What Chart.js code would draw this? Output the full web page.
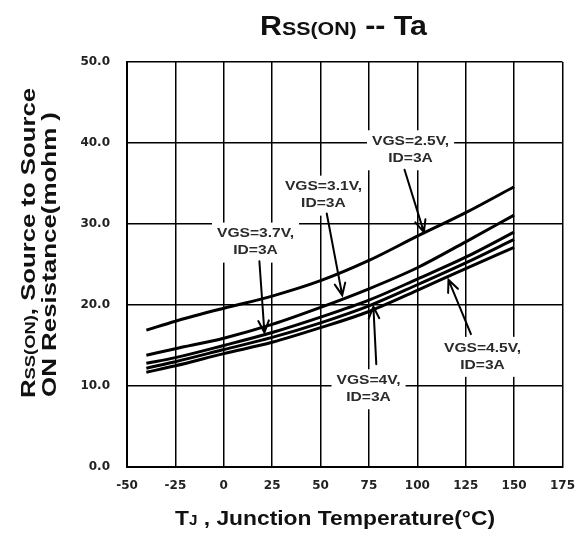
<!DOCTYPE html>
<html><head><meta charset="utf-8">
<script src="https://cdn.jsdelivr.net/npm/chart.js@4.4.0/dist/chart.umd.min.js"></script>
<style>html,body{margin:0;padding:0;background:#fff;overflow:hidden}#wrap{width:587px;height:541px;position:relative}</style>
</head><body><div id="wrap"><canvas id="c"></canvas></div>
<script>
// ---- data ----
const temps = [-40, -25, 0, 25, 50, 75, 100, 125, 150];
const vgs25 = [16.9, 18.0, 19.6, 21.1, 23.0, 25.5, 28.5, 31.4, 34.6];
const vgs31 = [13.8, 14.6, 15.9, 17.6, 19.7, 22.0, 24.6, 27.8, 31.1];
const vgs37 = [12.8, 13.5, 15.0, 16.6, 18.5, 20.6, 23.2, 25.9, 29.0];
const vgs40 = [12.2, 13.0, 14.5, 16.0, 17.8, 19.9, 22.5, 25.2, 28.1];
const vgs45 = [11.7, 12.5, 14.0, 15.4, 17.2, 19.2, 21.8, 24.5, 27.1];
const seriesNames = ['VGS=2.5V', 'VGS=3.1V', 'VGS=3.7V', 'VGS=4V', 'VGS=4.5V'];
const xTicks = [-50, -25, 0, 25, 50, 75, 100, 125, 150, 175];
const yTicks = [0, 10, 20, 30, 40, 50];

// annotation labels (data coordinates: temperature, mohm)
const notes = [
  {lines: ['VGS=2.5V,', 'ID=3A'], at: [96.5, 39.1], from: [93.4, 36.7], to: [103.4, 29.0]},
  {lines: ['VGS=3.1V,', 'ID=3A'], at: [51.5, 33.5], from: [53.2, 31.3], to: [61.2, 21.2]},
  {lines: ['VGS=3.7V,', 'ID=3A'], at: [16.4, 27.7], from: [18.4, 25.4], to: [21.0, 16.6]},
  {lines: ['VGS=4V,', 'ID=3A'], at: [74.8, 9.6], from: [78.8, 12.7], to: [77.3, 19.8]},
  {lines: ['VGS=4.5V,', 'ID=3A'], at: [133.7, 13.6], from: [127.7, 16.4], to: [116.1, 23.1]}
];

const allSeries = [vgs25, vgs31, vgs37, vgs40, vgs45];
const datasets = allSeries.map((s, i) => ({
  label: seriesNames[i],
  data: temps.map((t, j) => ({x: t, y: s[j]})),
  borderColor: '#000', borderWidth: 3, pointRadius: 0, fill: false,
  cubicInterpolationMode: 'monotone'
}));

const FONT = '"Liberation Sans", Arial, sans-serif';
function drawRich(ctx, segs, x, y, targetW, color) {
  let w = 0;
  segs.forEach(s => { ctx.font = 'bold ' + s.size + 'px ' + FONT; s.w = ctx.measureText(s.t).width; w += s.w; });
  const sx = targetW / w;
  ctx.save();
  ctx.translate(x, y);
  ctx.scale(sx, 1);
  ctx.fillStyle = color; ctx.textBaseline = 'alphabetic'; ctx.textAlign = 'left';
  let cx = 0;
  segs.forEach(s => { ctx.font = 'bold ' + s.size + 'px ' + FONT; ctx.fillText(s.t, cx, 0); cx += s.w; });
  ctx.restore();
}

const decor = {
  id: 'decor',
  afterDatasetsDraw(chart) {
    const ctx = chart.ctx, xs = chart.scales.x, ys = chart.scales.y;
    // labels
    notes.forEach(n => {
      const cx = xs.getPixelForValue(n.at[0]), cy = ys.getPixelForValue(n.at[1]);
      const lh = 17;
      const sx = 1.3;
      ctx.save();
      ctx.font = 'bold 12px ' + FONT;
      const widths = n.lines.map(l => ctx.measureText(l).width * sx);
      const bw = Math.max(...widths) + 10, bh = lh * n.lines.length + 6;
      ctx.fillStyle = '#fff';
      ctx.fillRect(cx - bw / 2, cy - bh / 2, bw, bh);
      n.lines.forEach((l, i) => {
        const ly = cy - (n.lines.length - 1) * lh / 2 + i * lh;
        ctx.save();
        ctx.translate(cx, ly);
        ctx.scale(sx, 1);
        ctx.fillStyle = '#2a2a2a'; ctx.textAlign = 'center'; ctx.textBaseline = 'middle';
        ctx.fillText(l, 0, 0);
        ctx.restore();
      });
      ctx.restore();
    });
    // arrows
    notes.forEach(n => {
      const x1 = xs.getPixelForValue(n.from[0]), y1 = ys.getPixelForValue(n.from[1]);
      const x2 = xs.getPixelForValue(n.to[0]), y2 = ys.getPixelForValue(n.to[1]);
      const a = Math.atan2(y2 - y1, x2 - x1), L = 13, sp = 0.42;
      ctx.save();
      ctx.strokeStyle = '#000'; ctx.lineWidth = 2; ctx.lineCap = 'round';
      ctx.beginPath(); ctx.moveTo(x1, y1); ctx.lineTo(x2, y2);
      ctx.moveTo(x2 - L * Math.cos(a - sp), y2 - L * Math.sin(a - sp)); ctx.lineTo(x2, y2);
      ctx.lineTo(x2 - L * Math.cos(a + sp), y2 - L * Math.sin(a + sp));
      ctx.stroke();
      ctx.restore();
    });
  },
  afterDraw(chart) {
    const ctx = chart.ctx;
    // title
    drawRich(ctx, [{t: 'R', size: 27}, {t: 'SS(ON)', size: 19}, {t: ' -- Ta', size: 27}], 260, 35, 167, '#111');
    // x title
    drawRich(ctx, [{t: 'T', size: 21}, {t: 'J', size: 14}, {t: ' , Junction Temperature(\u00B0C)', size: 21}], 175, 525, 320, '#111');
    // y title
    ctx.save();
    ctx.translate(35, 398); ctx.rotate(-Math.PI / 2);
    drawRich(ctx, [{t: 'R', size: 21}, {t: 'SS(ON)', size: 15}, {t: ', Source to Source', size: 21}], 0, 0, 310, '#111');
    ctx.restore();
    ctx.save();
    ctx.translate(56, 397); ctx.rotate(-Math.PI / 2);
    drawRich(ctx, [{t: 'ON Resistance(mohm )', size: 21}], 0, 0, 285, '#111');
    ctx.restore();
  }
};

new Chart(document.getElementById('c'), {
  type: 'line',
  data: {datasets},
  options: {
    responsive: true, maintainAspectRatio: false, animation: false,
    layout: {padding: {top: 62, right: 13, left: 0, bottom: 0}},
    plugins: {legend: {display: false}, tooltip: {enabled: false}, title: {display: false}},
    scales: {
      x: {
        type: 'linear', min: -50, max: 175,
        afterBuildTicks: s => { s.ticks = xTicks.map(v => ({value: v})); },
        afterFit: s => { s.height = 74; },
        grid: {color: '#000', lineWidth: 1.5, drawTicks: false},
        border: {color: '#000', width: 2},
        ticks: {padding: 12, color: '#222', font: {family: '"DejaVu Sans"', weight: 'bold', size: 12}, maxRotation: 0, autoSkip: false}
      },
      y: {
        type: 'linear', min: 0, max: 50,
        afterBuildTicks: s => { s.ticks = yTicks.map(v => ({value: v})); },
        afterFit: s => { s.width = 127; },
        grid: {color: '#000', lineWidth: 1.5, drawTicks: false},
        border: {color: '#000', width: 2},
        ticks: {padding: 17, color: '#222', font: {family: '"DejaVu Sans"', weight: 'bold', size: 12}, callback: v => Number(v).toFixed(1)}
      }
    }
  },
  plugins: [decor]
});
</script></body></html>
